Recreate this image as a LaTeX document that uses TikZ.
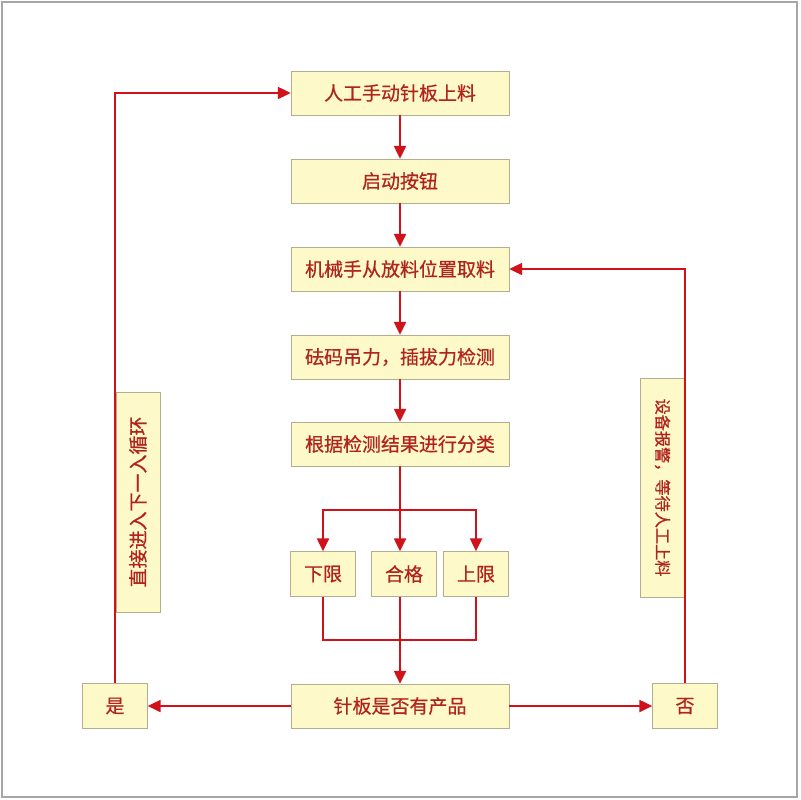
\documentclass[tikz,border=0pt]{standalone}
\usepackage{fontspec}
\usepackage{xcolor}
\usetikzlibrary{arrows.meta}
\newfontfamily\cjk[FakeBold=0.6]{Noto Sans CJK SC}

\definecolor{boxfill}{HTML}{FEF9C9}
\definecolor{boxline}{HTML}{B3AE8E}
\definecolor{textred}{HTML}{B0241C}
\definecolor{linered}{HTML}{D0121B}

\begin{document}
\begin{tikzpicture}[x=0.025cm,y=-0.025cm,
        box/.style={draw=boxline,fill=boxfill,text=textred,inner sep=0pt,
            minimum width=5.45cm,minimum height=1.1cm,font=\cjk\fontsize{13.5}{14}\selectfont},
        smallbox/.style={box,minimum width=1.625cm,minimum height=1.125cm},
        sidebox/.style={box,minimum height=1.1cm},
        line/.style={linered,line width=0.05cm},
        flow/.style={line,-{Triangle[length=0.32cm,width=0.3cm]}}]
        \useasboundingbox (0,0) rectangle (800,800);
        \draw[gray!70,line width=0.03cm] (2,2) rectangle (797,797);
        % main column
        \node[box] at (400,93) (load) {人工手动针板上料};
        \node[box] at (400,181) (start) {启动按钮};
        \node[box] at (400,269) (pick) {机械手从放料位置取料};
        \node[box] at (400,357) (test) {砝码吊力，插拔力检测};
        \node[box] at (400,444) (sort) {根据检测结果进行分类};
        \node[smallbox] at (323,574) (low) {下限};
        \node[smallbox] at (404,574) (ok) {合格};
        \node[smallbox] at (476,574) (high) {上限};
        \node[box] at (400,706) (check) {针板是否有产品};
        \node[smallbox] at (115,706) (yes) {是};
        \node[smallbox] at (685,706) (no) {否};
        \node[sidebox,minimum width=5.5cm,rotate=90] at (138,502) (next) {直接进入下一入循环};
        \node[sidebox,minimum width=5.475cm,rotate=-90,font=\cjk\fontsize{11.5}{12}\selectfont] at (662.5,487.5) (alarm) {设备报警，等待人工上料};
        \coordinate (split) at (400,510);
        \coordinate (join) at (400,640);
        \draw[flow] (load) -- (start);
        \draw[flow] (start) -- (pick);
        \draw[flow] (pick) -- (test);
        \draw[flow] (test) -- (sort);
        \draw[line] (sort) -- (split);
        \draw[flow] (split) -| (low);
        \draw[flow] (split) -| (high);
        \draw[flow] (split) -- (split |- ok.north);
        \draw[line] (low) |- (join) -| (high);
        \draw[line] (split |- ok.south) -- (join);
        \draw[flow] (join) -- (check);
        \draw[flow] (check) -- (yes);
        \draw[flow] (check) -- (no);
        \draw[flow] (yes) |- (load);
        \draw[flow] (no) |- (pick);
\end{tikzpicture}
\end{document}
